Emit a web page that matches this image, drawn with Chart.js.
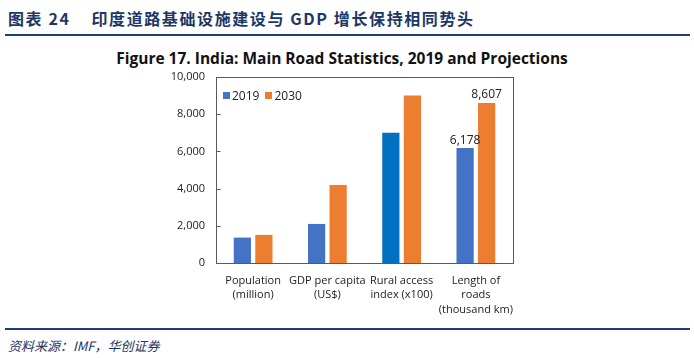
<!DOCTYPE html>
<html><head><meta charset="utf-8">
<script src="https://cdn.jsdelivr.net/npm/chart.js@4/dist/chart.umd.min.js"></script>
<style>
html,body{margin:0;padding:0;background:#fff;}
#wrap{position:relative;width:694px;height:358px;overflow:hidden;}
#hdr{position:absolute;left:8px;top:6px;font-family:"Noto Sans CJK SC","DejaVu Sans",sans-serif;font-weight:bold;font-size:16px;color:#1c3766;letter-spacing:1.6px;white-space:nowrap;}
#hline{position:absolute;left:5px;top:34px;width:685px;height:2px;background:#1c3f7a;}
#fline{position:absolute;left:5px;top:328px;width:685px;height:2px;background:#1c3f7a;}
#src{position:absolute;left:8px;top:336px;font-family:"Noto Sans CJK SC",serif;font-style:italic;font-size:13px;color:#1c3766;white-space:nowrap;}
#ttl{position:absolute;left:0;width:684px;top:47px;text-align:center;font-family:"Open Sans","Liberation Sans",sans-serif;font-weight:bold;font-size:15.5px;color:#111;white-space:nowrap;}
#cbox{position:absolute;left:0;top:40px;width:694px;height:285px;}
#leg{position:absolute;left:223px;top:87px;font-family:"Open Sans","Liberation Sans",sans-serif;font-size:12px;color:#222;white-space:nowrap;}
#leg span.sq{display:inline-block;width:7px;height:7px;margin-right:2px;vertical-align:1px;}
#leg span.g{display:inline-block;width:6px;}
</style></head>
<body><div id="wrap">
<div id="hdr">图表 24&nbsp;&nbsp;&nbsp;&nbsp;印度道路基础设施建设与 GDP 增长保持相同势头</div>
<div id="hline"></div>
<div id="ttl">Figure 17. India: Main Road Statistics, 2019 and Projections</div>
<div id="cbox"><canvas id="c"></canvas></div>
<div id="leg"><span class="sq" style="background:#4472c4"></span>2019<span class="g"></span><span class="sq" style="background:#ed7d31"></span>2030</div>
<div id="fline"></div>
<div id="src">资料来源：IMF，华创证券</div>
</div>
<script>
const categories = [["Population","(million)"],["GDP per capita","(US$)"],["Rural access","index (x100)"],["Length of","roads","(thousand km)"]];
const seriesNames = ["2019","2030"];
const values2019 = [1366, 2100, 7000, 6178];
const values2030 = [1510, 4200, 9000, 8607];
const labelled2019 = [null, null, null, "6,178"];
const labelled2030 = [null, null, null, "8,607"];
const yTicks = [0,2000,4000,6000,8000,10000];

const blue = "#4472c4", orange = "#ed7d31", darkBlue = "#0070c0";

const borderPlugin = {
  id:'plotBorder',
  afterDraw(chart){
    const a = chart.chartArea, ctx = chart.ctx, y = chart.scales.y;
    ctx.save();
    ctx.strokeStyle = "#5a5a5a"; ctx.lineWidth = 1;
    const L = Math.round(a.left)+0.5;
    ctx.strokeRect(L, Math.round(a.top)+0.5, Math.round(a.right-a.left), Math.round(a.bottom-a.top));
    ctx.beginPath();
    yTicks.forEach(v => { const py = Math.round(y.getPixelForValue(v))+0.5; ctx.moveTo(L, py); ctx.lineTo(L+4, py); });
    ctx.stroke();
    ctx.restore();
  }
};
const labelPlugin = {
  id:'valLabels',
  afterDatasetsDraw(chart){
    const ctx = chart.ctx;
    const labs = [labelled2019, labelled2030];
    ctx.save();
    ctx.font = "12px 'Open Sans','Liberation Sans',sans-serif";
    ctx.fillStyle = "#222"; ctx.textAlign = "center"; ctx.textBaseline = "bottom";
    chart.data.datasets.forEach((ds, di) => {
      chart.getDatasetMeta(di).data.forEach((el, i) => {
        const t = labs[di][i];
        if (t) ctx.fillText(t, el.x, el.y - 2);
      });
    });
    ctx.restore();
  }
};

new Chart(document.getElementById('c'), {
  type:'bar',
  data:{
    labels: categories,
    datasets:[
      {label: seriesNames[0], data: values2019, backgroundColor: values2019.map((v,i)=> i===2 ? darkBlue : blue), borderWidth:0},
      {label: seriesNames[1], data: values2030, backgroundColor: orange, borderWidth:0}
    ]
  },
  options:{
    responsive:true, maintainAspectRatio:false, animation:false,
    layout:{padding:{left:0,right:181,top:37,bottom:0}},
    datasets:{bar:{categoryPercentage:0.58, barPercentage:0.8}},
    plugins:{
      legend:{display:false},
      tooltip:{enabled:false},
      title:{display:false}
    },
    scales:{
      x:{
        grid:{display:false, drawTicks:false},
        border:{display:false},
        ticks:{font:{family:"'Open Sans','Liberation Sans',sans-serif", size:11, lineHeight:1.35}, color:"#222", padding:10, maxRotation:0, autoSkip:false},
        afterFit(s){ s.height = 62; }
      },
      y:{
        min:0, max:10000,
        afterBuildTicks(s){ s.ticks = yTicks.map(v=>({value:v})); },
        grid:{display:false, drawOnChartArea:false, drawTicks:false},
        border:{display:false},
        ticks:{font:{family:"'Open Sans','Liberation Sans',sans-serif", size:11}, color:"#222", padding:11,
          callback:v=>v.toLocaleString('en-US')},
        afterFit(s){ s.width = 216; }
      }
    }
  },
  plugins:[borderPlugin, labelPlugin]
});
</script>
</body></html>
